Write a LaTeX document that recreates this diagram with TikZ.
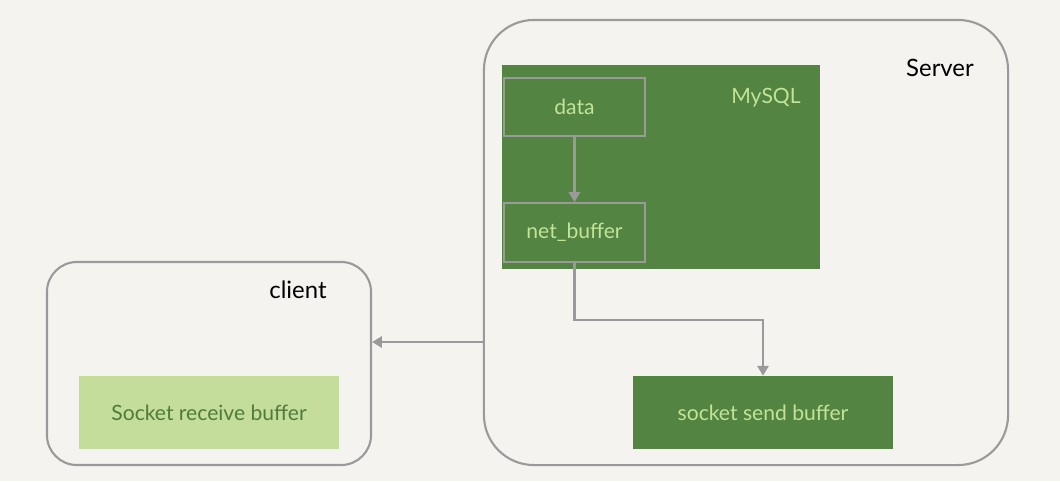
\documentclass[tikz,border=0pt]{standalone}
\usepackage{fontspec}
\setmainfont{Lato}
\usetikzlibrary{arrows.meta}

\definecolor{paper}{HTML}{F5F3EF}
\definecolor{frame}{HTML}{9A9A9A}
\definecolor{darkleaf}{HTML}{548441}
\definecolor{lightleaf}{HTML}{C4DD9A}
\definecolor{leaftext}{HTML}{C2E39A}
\definecolor{inktext}{HTML}{4F7B3B}

\begin{document}
\begin{tikzpicture}
			[x=0.025cm,y=-0.025cm,line cap=round,
			%Styles
			host/.style={draw=frame,line width=1.5pt,fill=paper,inner sep=0pt},
			green box/.style={fill=darkleaf,inner sep=0pt,text=leaftext,font=\fontsize{15}{17}\selectfont},
			pale box/.style={fill=lightleaf,inner sep=0pt,text=inktext,font=\fontsize{15}{17}\selectfont},
			buffer/.style={draw=frame,line width=1.3pt,fill=darkleaf,inner sep=0pt,text=leaftext,
				minimum width=3.525cm,font=\fontsize{15}{17}\selectfont},
			title/.style={font=\fontsize{17}{19}\selectfont},
			flow/.style={draw=frame,line width=1.5pt,-{Triangle[width=8pt,length=7pt]}}
			]
			
			%Background
			\fill[paper] (0,0) rectangle (1060,481);
			
			%The graphic
			\node[host,rounded corners=1.25cm,minimum width=13.1cm,minimum height=11.125cm] (server) at (746,242.5) {};
			\node[host,rounded corners=0.75cm,minimum width=8.1cm,minimum height=5.075cm] (client) at (209,363.5) {};
			
			\node[title] (servername) at (940,68) {Server};
			\node[title] (clientname) at (298,290) {client};
			
			\node[green box,minimum width=7.95cm,minimum height=5.1cm] (mysql) at (661,167) {};
			\node[green box] (mysqlname) at (766,98) {MySQL};
			
			\node[buffer,minimum height=1.45cm] (data) at (574.5,107) {data};
			\node[buffer,minimum height=1.475cm] (net) at (574.5,232.5) {net\_buffer};
			
			\node[green box,minimum width=6.5cm,minimum height=1.825cm] (send) at (763,412.5) {socket send buffer};
			\node[pale box,minimum width=6.5cm,minimum height=1.825cm] (recv) at (209,412.5) {Socket receive buffer};
			
			\path
				(data) edge[flow] (net);
			\draw[flow] (net.south) -- ++(0,57) -| (send.north);
			\draw[flow] (server.west |- 0,342) -- (client.east |- 0,342);
		\end{tikzpicture}
\end{document}
